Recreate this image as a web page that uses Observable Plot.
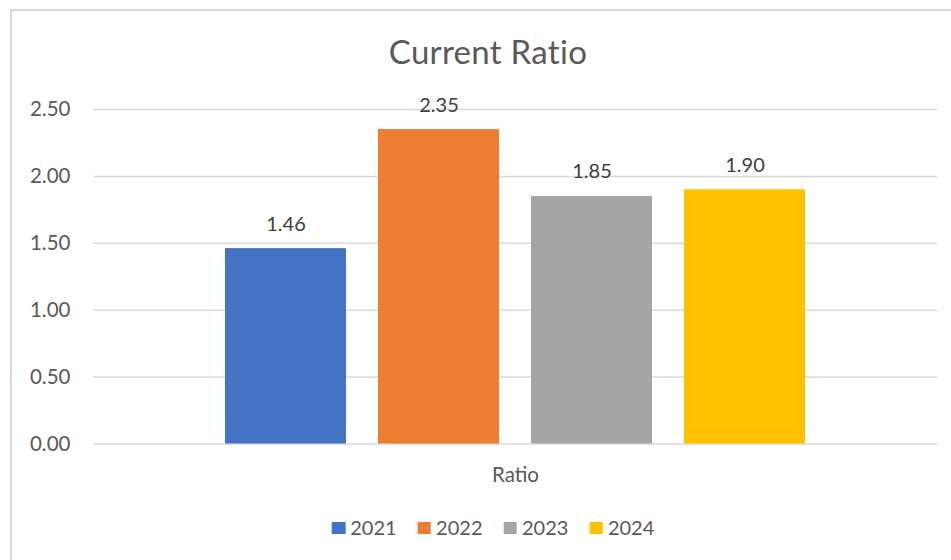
<!DOCTYPE html>
<html>
<head>
<meta charset="utf-8">
<script src="https://cdn.jsdelivr.net/npm/d3@7"></script>
<script src="https://cdn.jsdelivr.net/npm/@observablehq/plot@0.6"></script>
<style>
  html, body { margin: 0; padding: 0; background: #ffffff; overflow: hidden; width: 951px; height: 560px; }
  body { position: relative; font-family: Lato, "Open Sans", sans-serif; }
  #frame { position: absolute; left: 10px; top: 9px; width: 980px; height: 600px; border: 2px solid #d9d9d9; box-sizing: border-box; }
  #title { position: absolute; left: 488px; top: 32px; transform: translateX(-50%); font-size: 33px; line-height: 1.2; color: #595959; white-space: nowrap; letter-spacing: 0.3px; }
  #chart { position: absolute; left: 0; top: 0; }
  #legend { position: absolute; left: 493px; top: 514.5px; transform: translateX(-50%); display: flex; align-items: center; font-size: 20px; line-height: 1.2; color: #595959; white-space: nowrap; }
  .item { display: flex; align-items: center; margin-right: 21px; }
  .item:last-child { margin-right: 0; }
  .sw { width: 13.5px; height: 12.5px; margin-right: 5px; margin-top: 3px; }
</style>
</head>
<body>
<div id="frame"></div>
<div id="title">Current Ratio</div>
<div id="chart"></div>
<div id="legend"></div>
<script>
// ---- data ----
const categories = ["Ratio"];
const years = ["2021", "2022", "2023", "2024"];
const values = [1.46, 2.35, 1.85, 1.90];
const colors = ["#4472C4", "#ED7D31", "#A5A5A5", "#FFC000"];
const yTicks = [0, 0.5, 1.0, 1.5, 2.0, 2.5];

const data = years.map((y, i) => ({category: categories[0], year: y, value: values[i]}));

const chart = Plot.plot({
  width: 951,
  height: 560,
  marginLeft: 93,
  marginRight: 14,
  marginTop: 109,
  marginBottom: 116.5,
  style: {background: "transparent", fontFamily: "Lato, 'Open Sans', sans-serif", fontSize: "20px", overflow: "visible"},
  fx: {domain: categories, padding: 0, axis: null},
  x: {domain: years, paddingInner: 0.21, paddingOuter: 0.86, axis: null},
  y: {domain: [0, 2.5], nice: false, axis: null},
  color: {domain: years, range: colors},
  marks: [
    Plot.gridY(yTicks, {stroke: "#d9d9d9", strokeOpacity: 1, strokeWidth: 1.5}),
    Plot.axisY(yTicks, {tickSize: 0, tickPadding: 23, tickFormat: d3.format(".2f"), label: null, fill: "#595959", fontSize: 20.5}),
    Plot.axisFx({anchor: "bottom", tickSize: 0, tickPadding: 23.5, label: null, fill: "#595959", fontSize: 20.5}),
    Plot.barY(data, {fx: "category", x: "year", y: "value", fill: "year"}),
    Plot.text(data, {fx: "category", x: "year", y: "value", text: d => d.value.toFixed(2), dy: -24.4, fill: "#404040", fontSize: 20})
  ]
});
document.getElementById("chart").appendChild(chart);

const legend = document.getElementById("legend");
years.forEach((y, i) => {
  const item = document.createElement("div");
  item.className = "item";
  const sw = document.createElement("div");
  sw.className = "sw";
  sw.style.background = colors[i];
  const t = document.createElement("span");
  t.textContent = y;
  item.appendChild(sw);
  item.appendChild(t);
  legend.appendChild(item);
});
</script>
</body>
</html>
